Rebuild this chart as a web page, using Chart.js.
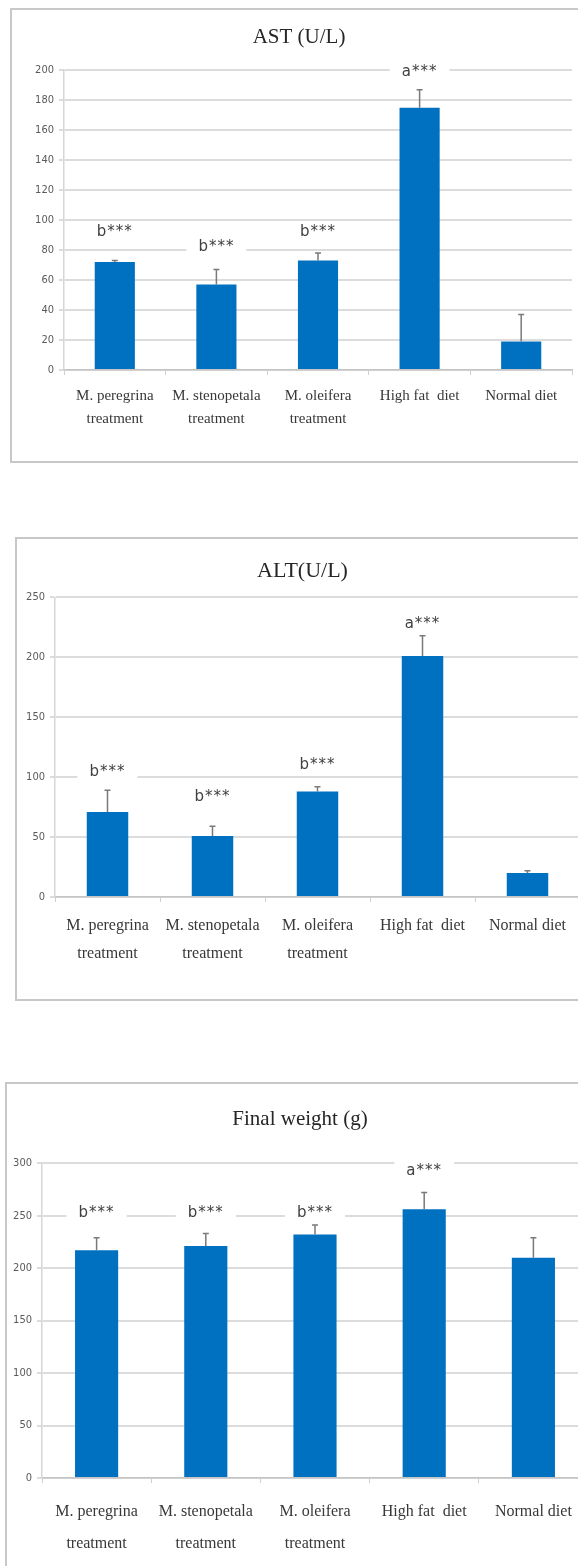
<!DOCTYPE html>
<html lang="en">
<head>
  <meta charset="UTF-8" />
  <title>AST, ALT and final weight</title>
  <script src="https://cdn.jsdelivr.net/npm/chart.js"></script>
  <style>
    html, body {
      margin: 0;
      padding: 0;
      width: 578px;
      height: 1566px;
      overflow: hidden;
      background: #fff;
    }
    .box {
      position: absolute;
      border: 2px solid #c8c8c8;
      box-sizing: border-box;
    }
    .panel {
      position: absolute;
      left: 0;
      width: 600px;
    }
  </style>
</head>
<body>
  <div class="box" style="left:10px; top:8px; width:600px; height:455px;"></div>
  <div class="box" style="left:15px; top:537px; width:600px; height:464px;"></div>
  <div class="box" style="left:5px; top:1082px; width:600px; height:520px;"></div>

  <div class="panel" style="top:0; height:470px;"><canvas id="astChart"></canvas></div>
  <div class="panel" style="top:500px; height:520px;"><canvas id="altChart"></canvas></div>
  <div class="panel" style="top:1040px; height:533px;"><canvas id="weightChart"></canvas></div>

  <script>
    const categories = [['M. peregrina', 'treatment'], ['M. stenopetala', 'treatment'], ['M. oleifera', 'treatment'], 'High fat  diet', 'Normal diet'];

    const astValues = [72, 57, 73, 175, 19];
    const astErrors = [1, 10, 5, 12, 18];
    const astLetters = ['b***', 'b***', 'b***', 'a***', ''];
    const astLetterAt = [92, 82, 92, 199, 0];

    const altValues = [71, 51, 88, 201, 20];
    const altErrors = [18, 8, 4, 17, 2];
    const altLetters = ['b***', 'b***', 'b***', 'a***', ''];
    const altLetterAt = [104, 83, 110, 228, 0];

    const weightValues = [217, 221, 232, 256, 210];
    const weightErrors = [12, 12, 9, 16, 19];
    const weightLetters = ['b***', 'b***', 'b***', 'a***', ''];
    const weightLetterAt = [252, 252, 252, 292, 0];

    const barBlue = '#0070C0';

    // upper error whiskers and significance letters (white box cuts the gridline)
    const marksPlugin = {
      id: 'marks',
      afterDatasetsDraw(chart, args, opts) {
        const ctx = chart.ctx;
        const y = chart.scales.y;
        const bars = chart.getDatasetMeta(0).data;
        ctx.save();
        bars.forEach((bar, i) => {
          if (!opts.letters[i]) return;
          const ly = y.getPixelForValue(opts.letterAt[i]);
          ctx.font = '15px "DejaVu Sans", sans-serif';
          ctx.letterSpacing = '1px';
          const w = ctx.measureText(opts.letters[i]).width;
          ctx.fillStyle = '#fff';
          ctx.fillRect(bar.x - w / 2 - 12, ly - 10, w + 24, 20);
          ctx.fillStyle = '#404040';
          ctx.textAlign = 'center';
          ctx.textBaseline = 'middle';
          ctx.fillText(opts.letters[i], bar.x, ly);
        });
        ctx.letterSpacing = '0px';
        ctx.strokeStyle = '#7a7a7a';
        ctx.lineWidth = 1.5;
        bars.forEach((bar, i) => {
          const top = y.getPixelForValue(opts.values[i] + opts.errors[i]);
          ctx.beginPath();
          ctx.moveTo(bar.x, bar.y);
          ctx.lineTo(bar.x, top);
          ctx.moveTo(bar.x - 3, top);
          ctx.lineTo(bar.x + 3, top);
          ctx.stroke();
        });
        ctx.restore();
      }
    };

    function makeChart(id, cfg) {
      return new Chart(document.getElementById(id), {
        type: 'bar',
        data: {
          labels: categories,
          datasets: [{
            data: cfg.values,
            backgroundColor: barBlue,
            borderWidth: 0,
            barPercentage: 0.395,
            categoryPercentage: 1
          }]
        },
        options: {
          responsive: true,
          maintainAspectRatio: false,
          animation: false,
          layout: { padding: cfg.padding },
          scales: {
            x: {
              grid: {
                display: true,
                drawOnChartArea: false,
                drawTicks: true,
                tickLength: 5,
                color: '#cfcfcf'
              },
              border: { display: true, color: '#c4c4c4', width: 1.5 },
              ticks: {
                autoSkip: false,
                maxRotation: 0,
                minRotation: 0,
                padding: cfg.labelPad,
                color: '#383838',
                font: { family: '"Liberation Serif", serif', size: cfg.labelSize, lineHeight: cfg.labelLine }
              }
            },
            y: {
              min: 0,
              max: cfg.max,
              afterFit: (scale) => { scale.width = cfg.axisWidth; },
              grid: { color: '#dcdcdc', lineWidth: 2, tickLength: 5 },
              border: { display: true, color: '#d6d6d6', width: 1.5 },
              ticks: {
                stepSize: cfg.step,
                padding: 5,
                color: '#5a5a5a',
                font: { family: '"Liberation Sans Narrow", "DejaVu Sans Condensed", "Liberation Sans", sans-serif', size: 11 }
              }
            }
          },
          plugins: {
            legend: { display: false },
            tooltip: { enabled: false },
            title: {
              display: true,
              text: cfg.title,
              color: '#262626',
              font: { family: '"Liberation Serif", serif', size: cfg.titleSize, weight: 'normal' },
              padding: cfg.titlePad
            },
            marks: {
              values: cfg.values,
              errors: cfg.errors,
              letters: cfg.letters,
              letterAt: cfg.letterAt
            }
          }
        },
        plugins: [marksPlugin]
      });
    }

    makeChart('astChart', {
      title: 'AST (U/L)', titleSize: 21, titlePad: { top: 25, bottom: 20 },
      values: astValues, errors: astErrors, letters: astLetters, letterAt: astLetterAt,
      max: 200, step: 20,
      padding: { left: 26, right: 28, top: 0, bottom: 30 }, axisWidth: 38,
      labelSize: 15, labelLine: 1.5, labelPad: 10
    });

    makeChart('altChart', {
      title: 'ALT(U/L)', titleSize: 22, titlePad: { top: 58, bottom: 13 },
      values: altValues, errors: altErrors, letters: altLetters, letterAt: altLetterAt,
      max: 250, step: 50,
      padding: { left: 25, right: 20, top: 0, bottom: 42 }, axisWidth: 30,
      labelSize: 16, labelLine: 1.75, labelPad: 10
    });

    makeChart('weightChart', {
      title: 'Final weight (g)', titleSize: 21, titlePad: { top: 67, bottom: 31 },
      values: weightValues, errors: weightErrors, letters: weightLetters, letterAt: weightLetterAt,
      max: 300, step: 50,
      padding: { left: 12, right: 12, top: 0, bottom: 0 }, axisWidth: 30,
      labelSize: 16, labelLine: 2, labelPad: 13
    });
  </script>
</body>
</html>
